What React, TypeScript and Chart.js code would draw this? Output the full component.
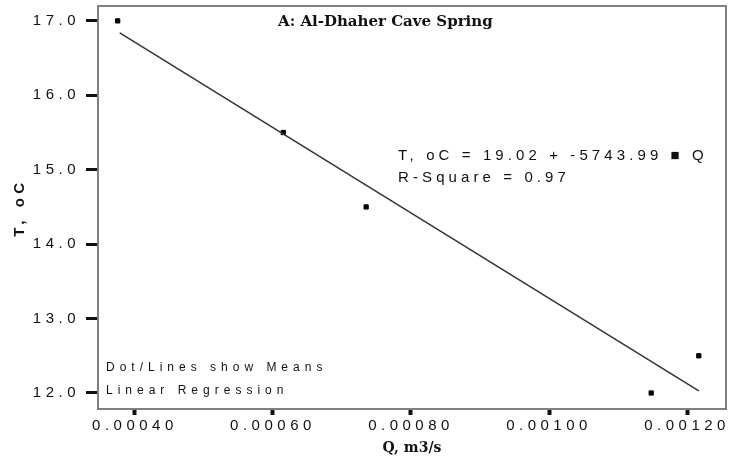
import React, { useEffect, useRef } from 'react';
import { Chart, registerables } from 'chart.js';

Chart.register(...registerables);

// ---- data ----
const qValues = [0.000375, 0.000615, 0.000735, 0.001148, 0.001217];
const tValues = [17.0, 15.5, 14.5, 12.0, 12.5];
const fitQ = [0.000378, 0.001217];
const fitT = [16.84, 12.03];
const xTickValues = [0.0004, 0.0006, 0.0008, 0.001, 0.0012];
const yTickValues = [12, 13, 14, 15, 16, 17];
const chartTitle = 'A: Al-Dhaher Cave Spring';
const xTitle = 'Q, m3/s';
const yTitle = 'T, oC';
const equationLines = ['T, oC = 19.02 + -5743.99 \u25A0 Q', 'R-Square = 0.97'];
const noteLines = ['Dot/Lines show Means', 'Linear Regression'];

const textPlugin = {
  id: 'texts',
  beforeDraw(chart: any) {
    const ctx = chart.ctx as any;
    ctx.letterSpacing = '4.5px';
    const xs = chart.scales.x as any;
    if (xs && !xs._patchedTitle) {
      const orig = xs.drawTitle.bind(xs);
      xs.drawTitle = function () {
        const prev = ctx.letterSpacing;
        ctx.letterSpacing = '0px';
        orig();
        ctx.letterSpacing = prev;
      };
      xs._patchedTitle = true;
    }
  },
  afterDatasetsDraw(chart: any) {
    const { ctx, chartArea: a } = chart;
    ctx.save();
    ctx.strokeStyle = '#808080';
    ctx.lineWidth = 2;
    ctx.strokeRect(a.left, a.top, a.right - a.left, a.bottom - a.top);
    ctx.restore();
  },
  afterDraw(chart: any) {
    const { ctx, chartArea: a } = chart;
    const c = ctx as any;
    ctx.save();
    ctx.textBaseline = 'middle';
    ctx.textAlign = 'left';
    // title
    c.letterSpacing = '0px';
    ctx.fillStyle = '#111';
    ctx.font = 'bold 15px "DejaVu Serif"';
    ctx.fillText(chartTitle, a.left + 180, a.top + 16);
    // equation
    c.letterSpacing = '4.1px';
    ctx.fillStyle = '#111';
    ctx.font = '15px "Liberation Sans"';
    equationLines.forEach((t, i) => ctx.fillText(t, a.left + 300, a.top + 150 + i * 21.5));
    // notes
    c.letterSpacing = '5px';
    ctx.font = '12px "Liberation Sans"';
    noteLines.forEach((t, i) => ctx.fillText(t, a.left + 8, a.top + 362 + i * 23));
    ctx.restore();
    c.letterSpacing = '0px';
  },
};

export default function App() {
  const ref = useRef<HTMLCanvasElement | null>(null);
  useEffect(() => {
    if (!ref.current) return;
    const chart = new Chart(ref.current, {
      type: 'scatter',
      data: {
        datasets: [
          {
            type: 'line',
            data: fitQ.map((q, i) => ({ x: q, y: fitT[i] })),
            borderColor: '#333',
            borderWidth: 1.5,
            pointRadius: 0,
            fill: false,
          },
          {
            type: 'scatter',
            data: qValues.map((q, i) => ({ x: q, y: tValues[i] })),
            pointStyle: 'rect',
            pointRadius: 3,
            borderWidth: 1,
            backgroundColor: '#000',
            borderColor: '#000',
          },
        ],
      },
      plugins: [textPlugin],
      options: {
        animation: false,
        responsive: false,
        devicePixelRatio: 1,
        layout: { padding: { top: 6, right: 4, left: 0, bottom: 0 } },
        plugins: { legend: { display: false }, tooltip: { enabled: false }, title: { display: false } },
        scales: {
          x: {
            type: 'linear',
            min: 0.0003465,
            max: 0.0012564,
            afterBuildTicks: (s: any) => { s.ticks = xTickValues.map((v) => ({ value: v })); },
            afterFit: (s: any) => { s.height = 50; s.paddingLeft = 0; s.paddingRight = 0; },
            border: { display: false },
            grid: { drawOnChartArea: false, drawTicks: true, tickLength: 6, tickWidth: 4, tickColor: '#111' },
            ticks: {
              padding: 2,
              maxRotation: 0,
              autoSkip: false,
              color: '#111',
              font: { family: '"Liberation Sans"', size: 15 },
              callback: (v: any) => Number(v).toFixed(5),
            },
            title: {
              display: true,
              text: xTitle,
              color: '#111',
              font: { family: '"DejaVu Serif"', size: 14, weight: 'bold' },
              padding: { top: 0, bottom: 2 },
            },
          },
          y: {
            type: 'linear',
            min: 11.785,
            max: 17.2,
            afterBuildTicks: (s: any) => { s.ticks = yTickValues.map((v) => ({ value: v })); },
            afterFit: (s: any) => { s.width = 98; s.paddingTop = 0; s.paddingBottom = 0; },
            border: { display: false },
            grid: { drawOnChartArea: false, drawTicks: true, tickLength: 12, tickWidth: 3, tickColor: '#111' },
            ticks: {
              padding: 6,
              autoSkip: false,
              color: '#111',
              font: { family: '"Liberation Sans"', size: 15 },
              callback: (v: any) => Number(v).toFixed(1),
            },
            title: {
              display: true,
              text: yTitle,
              color: '#111',
              font: { family: '"Liberation Sans"', size: 15, weight: 'bold' },
              padding: { top: 11, bottom: 0 },
            },
          },
        },
      },
    } as any);
    return () => chart.destroy();
  }, []);
  return (
    <div style={{ position: 'fixed', left: 0, top: 0, width: 731, height: 459, background: '#fff' }}>
      <canvas ref={ref} width={731} height={459} style={{ width: 731, height: 459 }} />
    </div>
  );
}
